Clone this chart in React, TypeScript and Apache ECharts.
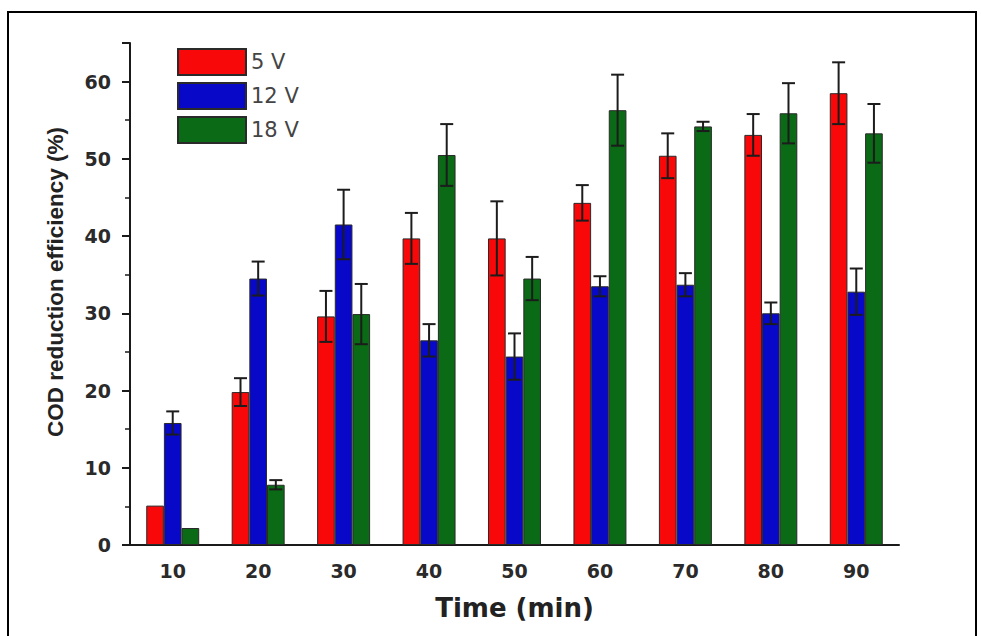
import React, { useEffect, useRef } from "react";
import * as echarts from "echarts";

const categories = ["10", "20", "30", "40", "50", "60", "70", "80", "90"];
const seriesNames = ["5 V", "12 V", "18 V"];
const values5V = [5.1, 19.8, 29.6, 39.7, 39.7, 44.3, 50.4, 53.1, 58.5];
const values12V = [15.8, 34.5, 41.5, 26.5, 24.4, 33.5, 33.7, 30.0, 32.8];
const values18V = [2.2, 7.8, 29.9, 50.5, 34.5, 56.3, 54.2, 55.9, 53.3];
const err5V = [0, 1.8, 3.3, 3.3, 4.8, 2.3, 2.9, 2.7, 4.0];
const err12V = [1.5, 2.2, 4.5, 2.1, 3.0, 1.3, 1.5, 1.4, 3.0];
const err18V = [0, 0.6, 3.9, 4.0, 2.8, 4.6, 0.6, 3.9, 3.8];
const colors = ["#f80808", "#0808c8", "#0a6a16"];
const yMax = 65;

const CAT_GAP = 0.38;

export default function App() {
  const ref = useRef<HTMLDivElement>(null);
  useEffect(() => {
    document.body.style.margin = "0";
    const chart = echarts.init(ref.current!, null, { renderer: "svg" });
    const allValues = [values5V, values12V, values18V];
    const allErr = [err5V, err12V, err18V];

    const bars = allValues.map((vals, k) => ({
      name: seriesNames[k],
      type: "bar",
      xAxisIndex: 0,
      yAxisIndex: 0,
      data: vals,
      barCategoryGap: "38%",
      barGap: "0%",
      itemStyle: { color: colors[k], borderColor: "#2a2a2a", borderWidth: 1 },
      z: 2,
    }));

    const errs = allValues.map((vals, k) => ({
      name: seriesNames[k] + " err",
      type: "custom",
      xAxisIndex: 0,
      yAxisIndex: 0,
      encode: { x: 0, y: 1 },
      z: 5,
      silent: true,
      data: vals.map((v, i) => [i, v, allErr[k][i]]),
      renderItem: (params: any, api: any) => {
        const idx = api.value(0);
        const v = api.value(1);
        const e = api.value(2);
        if (!e) return null;
        const band = api.size([1, 0])[0];
        const bw = (band * (1 - CAT_GAP)) / 3;
        const off = (k - 1) * bw;
        const top = api.coord([idx, v + e]);
        const bot = api.coord([idx, v - e]);
        const x = top[0] + off;
        const cap = 6.5;
        const st = { stroke: "#1c1c1c", lineWidth: 2 };
        return {
          type: "group",
          children: [
            { type: "line", shape: { x1: x, y1: top[1], x2: x, y2: bot[1] }, style: st },
            { type: "line", shape: { x1: x - cap, y1: top[1], x2: x + cap, y2: top[1] }, style: st },
            { type: "line", shape: { x1: x - cap, y1: bot[1], x2: x + cap, y2: bot[1] }, style: st },
          ],
        };
      },
    }));

    const axisLabelStyle = {
      fontFamily: "DejaVu Sans",
      fontWeight: "bold",
      fontSize: 19,
      color: "#2a2a2a",
    };

    chart.setOption({
      animation: false,
      backgroundColor: "#ffffff",
      grid: { left: 130, right: 82, top: 43, bottom: 91 },
      legend: {
        data: seriesNames,
        orient: "vertical",
        left: 172,
        top: 43,
        itemWidth: 68,
        itemHeight: 26,
        itemGap: 6,
        icon: "rect",
        textStyle: { fontFamily: "DejaVu Sans", fontSize: 21, color: "#444" },
      },
      xAxis: [
        {
          type: "category",
          data: categories,
          position: "bottom",
          name: "Time (min)",
          nameLocation: "middle",
          nameGap: 50,
          nameTextStyle: { fontFamily: "DejaVu Sans", fontWeight: "bold", fontSize: 26, color: "#222" },
          axisLine: { lineStyle: { color: "#1a1a1a", width: 2 } },
          axisTick: { alignWithLabel: true, length: 6, lineStyle: { color: "#1a1a1a", width: 2 } },
          axisLabel: { ...axisLabelStyle, margin: 16 },
          splitLine: { show: false },
        },
        {
          type: "category",
          data: categories,
          position: "bottom",
          axisLine: { show: false },
          axisTick: { alignWithLabel: false, length: 3, lineStyle: { color: "#1a1a1a", width: 2 } },
          axisLabel: { show: false },
          splitLine: { show: false },
        },
      ],
      yAxis: [
        {
          type: "value",
          position: "left",
          min: 0,
          max: yMax,
          interval: 5,
          name: "COD reduction efficiency (%)",
          nameLocation: "middle",
          nameGap: 63,
          nameTextStyle: {
            fontFamily: "Liberation Sans",
            fontWeight: "bold",
            fontSize: 22.5,
            color: "#222",
            padding: [0, 0, 0, 24],
          },
          axisLine: { show: true, lineStyle: { color: "#1a1a1a", width: 2 } },
          axisTick: { show: true, length: 5, lineStyle: { color: "#1a1a1a", width: 1.5 } },
          axisLabel: {
            ...axisLabelStyle,
            margin: 19,
            formatter: (v: number) => (v % 10 === 0 ? String(v) : ""),
          },
          splitLine: { show: false },
        },
        {
          type: "value",
          position: "left",
          min: 0,
          max: yMax,
          interval: 10,
          axisLine: { show: false },
          axisTick: { show: true, length: 8, lineStyle: { color: "#1a1a1a", width: 2 } },
          axisLabel: { show: false },
          splitLine: { show: false },
        },
      ],
      graphic: [
        {
          type: "rect",
          shape: { x: 8, y: 12, width: 968, height: 640 },
          style: { fill: "none", stroke: "#000", lineWidth: 2 },
          silent: true,
          z: 100,
        },
      ],
      series: [...bars, ...errs],
    });
    return () => chart.dispose();
  }, []);
  return <div ref={ref} style={{ width: 981, height: 636 }} />;
}
